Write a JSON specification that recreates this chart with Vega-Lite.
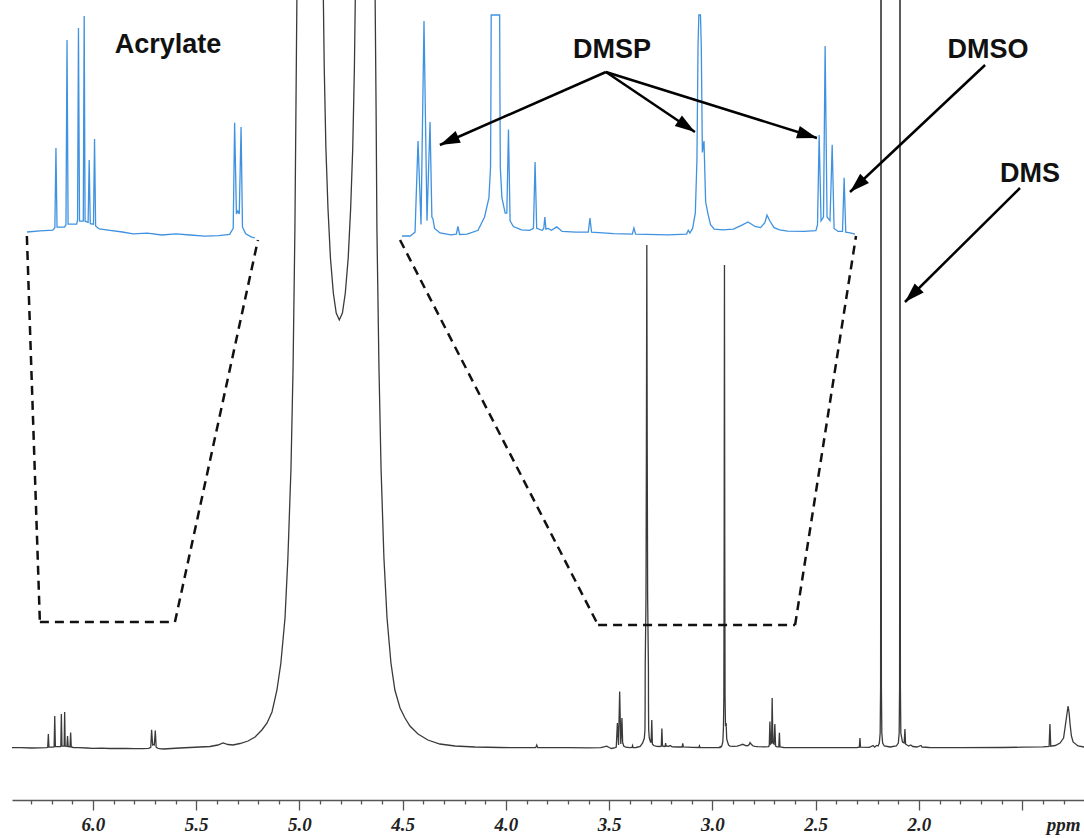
{
  "$schema": "https://vega.github.io/schema/vega-lite/v6.json",
  "width": 1072,
  "height": 800,
  "autosize": {"type": "none"},
  "padding": {"left": 12, "top": 0, "right": 0, "bottom": 38},
  "background": "white",
  "config": {"view": {"stroke": null}},
  "datasets": {
    "spectrum": [
      {"ppm": 6.392, "i": 0.3}, {"ppm": 6.35, "i": 0.4}, {"ppm": 6.297, "i": 0.0}, {"ppm": 6.26, "i": 0.2},
      {"ppm": 6.225, "i": 0.3}, {"ppm": 6.219, "i": 0.7}, {"ppm": 6.216, "i": 14}, {"ppm": 6.213, "i": 0.8},
      {"ppm": 6.192, "i": 0.8}, {"ppm": 6.188, "i": 1.2}, {"ppm": 6.185, "i": 32}, {"ppm": 6.182, "i": 1.3},
      {"ppm": 6.158, "i": 1.3}, {"ppm": 6.1555, "i": 2}, {"ppm": 6.153, "i": 34}, {"ppm": 6.15, "i": 1.8},
      {"ppm": 6.1395, "i": 1.8}, {"ppm": 6.137, "i": 36}, {"ppm": 6.1345, "i": 1.8}, {"ppm": 6.126, "i": 1.6},
      {"ppm": 6.123, "i": 12}, {"ppm": 6.12, "i": 1.4}, {"ppm": 6.111, "i": 1.3}, {"ppm": 6.108, "i": 15.5},
      {"ppm": 6.105, "i": 1.0}, {"ppm": 6.095, "i": 0.5}, {"ppm": 6.07, "i": 0.3}, {"ppm": 6.03, "i": 0.0},
      {"ppm": 6.0, "i": -0.3}, {"ppm": 5.96, "i": -0.2}, {"ppm": 5.92, "i": -0.5}, {"ppm": 5.88, "i": -0.3},
      {"ppm": 5.84, "i": -0.5}, {"ppm": 5.8, "i": -0.7}, {"ppm": 5.76, "i": -0.6}, {"ppm": 5.73, "i": -0.4},
      {"ppm": 5.72, "i": 0.6}, {"ppm": 5.716, "i": 18.2}, {"ppm": 5.711, "i": 3}, {"ppm": 5.707, "i": 3.5},
      {"ppm": 5.703, "i": 3}, {"ppm": 5.698, "i": 17.5}, {"ppm": 5.694, "i": 0.8}, {"ppm": 5.685, "i": -0.3},
      {"ppm": 5.67, "i": -0.8}, {"ppm": 5.659, "i": -1.0}, {"ppm": 5.62, "i": -0.5}, {"ppm": 5.58, "i": 0},
      {"ppm": 5.53, "i": 0.5}, {"ppm": 5.482, "i": 1}, {"ppm": 5.433, "i": 1.5}, {"ppm": 5.395, "i": 3},
      {"ppm": 5.37, "i": 5}, {"ppm": 5.346, "i": 3.5}, {"ppm": 5.322, "i": 3}, {"ppm": 5.288, "i": 4.5},
      {"ppm": 5.249, "i": 7}, {"ppm": 5.215, "i": 11}, {"ppm": 5.182, "i": 18}, {"ppm": 5.157, "i": 25},
      {"ppm": 5.133, "i": 36}, {"ppm": 5.109, "i": 58}, {"ppm": 5.09, "i": 85}, {"ppm": 5.07, "i": 130},
      {"ppm": 5.056, "i": 190}, {"ppm": 5.041, "i": 280}, {"ppm": 5.031, "i": 380}, {"ppm": 5.022, "i": 520},
      {"ppm": 5.017, "i": 640}, {"ppm": 5.012, "i": 760}, {"ppm": 5.002, "i": 1000}, {"ppm": 4.95, "i": 1600},
      {"ppm": 4.9, "i": 1000}, {"ppm": 4.885, "i": 760}, {"ppm": 4.88, "i": 680}, {"ppm": 4.872, "i": 600},
      {"ppm": 4.862, "i": 540}, {"ppm": 4.85, "i": 490}, {"ppm": 4.836, "i": 455}, {"ppm": 4.822, "i": 435},
      {"ppm": 4.807, "i": 428}, {"ppm": 4.792, "i": 435}, {"ppm": 4.778, "i": 455}, {"ppm": 4.764, "i": 490},
      {"ppm": 4.752, "i": 540}, {"ppm": 4.742, "i": 600}, {"ppm": 4.734, "i": 680}, {"ppm": 4.729, "i": 760},
      {"ppm": 4.7, "i": 1200}, {"ppm": 4.66, "i": 1000}, {"ppm": 4.634, "i": 760}, {"ppm": 4.629, "i": 640},
      {"ppm": 4.625, "i": 520}, {"ppm": 4.615, "i": 380}, {"ppm": 4.605, "i": 280}, {"ppm": 4.591, "i": 190},
      {"ppm": 4.576, "i": 130}, {"ppm": 4.557, "i": 85}, {"ppm": 4.538, "i": 58}, {"ppm": 4.513, "i": 40},
      {"ppm": 4.489, "i": 30}, {"ppm": 4.465, "i": 22}, {"ppm": 4.426, "i": 14}, {"ppm": 4.378, "i": 8},
      {"ppm": 4.32, "i": 4}, {"ppm": 4.247, "i": 2}, {"ppm": 4.15, "i": 1}, {"ppm": 4.029, "i": 0.5},
      {"ppm": 3.95, "i": 0.3}, {"ppm": 3.856, "i": 0.3}, {"ppm": 3.851, "i": 3}, {"ppm": 3.846, "i": 0.3},
      {"ppm": 3.7, "i": 0.3}, {"ppm": 3.6, "i": 0.2}, {"ppm": 3.54, "i": 0.4}, {"ppm": 3.512, "i": 1.8},
      {"ppm": 3.5, "i": 0.5}, {"ppm": 3.49, "i": -0.5}, {"ppm": 3.475, "i": 0}, {"ppm": 3.466, "i": 1},
      {"ppm": 3.4605, "i": 25}, {"ppm": 3.455, "i": 3}, {"ppm": 3.4495, "i": 56.6}, {"ppm": 3.444, "i": 4},
      {"ppm": 3.4384, "i": 30}, {"ppm": 3.435, "i": 5}, {"ppm": 3.433, "i": 4.5}, {"ppm": 3.43, "i": 2},
      {"ppm": 3.42, "i": 0.8}, {"ppm": 3.4, "i": 0.3}, {"ppm": 3.39, "i": 0.5}, {"ppm": 3.387, "i": 2.5},
      {"ppm": 3.384, "i": 0.4}, {"ppm": 3.37, "i": 0.5}, {"ppm": 3.35, "i": 1.5}, {"ppm": 3.338, "i": 5},
      {"ppm": 3.33, "i": 10}, {"ppm": 3.327, "i": 18}, {"ppm": 3.3262, "i": 40}, {"ppm": 3.3258, "i": 80},
      {"ppm": 3.322, "i": 150}, {"ppm": 3.32, "i": 300}, {"ppm": 3.318, "i": 503}, {"ppm": 3.316, "i": 300},
      {"ppm": 3.314, "i": 150}, {"ppm": 3.3102, "i": 80}, {"ppm": 3.3098, "i": 40}, {"ppm": 3.309, "i": 18},
      {"ppm": 3.306, "i": 10}, {"ppm": 3.3, "i": 6}, {"ppm": 3.297, "i": 6}, {"ppm": 3.294, "i": 28},
      {"ppm": 3.291, "i": 4}, {"ppm": 3.285, "i": 2.5}, {"ppm": 3.27, "i": 1.6}, {"ppm": 3.255, "i": 1.5},
      {"ppm": 3.248, "i": 2}, {"ppm": 3.245, "i": 19.5}, {"ppm": 3.242, "i": 2}, {"ppm": 3.232, "i": 1.5},
      {"ppm": 3.229, "i": 2}, {"ppm": 3.227, "i": 5}, {"ppm": 3.225, "i": 1.8}, {"ppm": 3.221, "i": 2},
      {"ppm": 3.215, "i": 1.5}, {"ppm": 3.205, "i": 2.4}, {"ppm": 3.195, "i": 1.2}, {"ppm": 3.17, "i": 1.0},
      {"ppm": 3.147, "i": 1.0}, {"ppm": 3.144, "i": 4.7}, {"ppm": 3.141, "i": 1.0}, {"ppm": 3.1, "i": 0.6},
      {"ppm": 3.066, "i": 0.5}, {"ppm": 3.063, "i": 2.1}, {"ppm": 3.06, "i": 0.5}, {"ppm": 3.0, "i": 0.3},
      {"ppm": 2.966, "i": 0.5}, {"ppm": 2.963, "i": 1.5}, {"ppm": 2.96, "i": 0.8}, {"ppm": 2.955, "i": 2},
      {"ppm": 2.95, "i": 6}, {"ppm": 2.947, "i": 20}, {"ppm": 2.945, "i": 50}, {"ppm": 2.9435, "i": 200},
      {"ppm": 2.942, "i": 483}, {"ppm": 2.9405, "i": 200}, {"ppm": 2.939, "i": 50}, {"ppm": 2.937, "i": 22},
      {"ppm": 2.934, "i": 25}, {"ppm": 2.931, "i": 9}, {"ppm": 2.927, "i": 6}, {"ppm": 2.922, "i": 3},
      {"ppm": 2.915, "i": 1.8}, {"ppm": 2.9, "i": 1.6}, {"ppm": 2.88, "i": 1.8}, {"ppm": 2.865, "i": 2.8},
      {"ppm": 2.853, "i": 3.7}, {"ppm": 2.84, "i": 2.5}, {"ppm": 2.83, "i": 2.2}, {"ppm": 2.822, "i": 3.5},
      {"ppm": 2.818, "i": 5.5}, {"ppm": 2.813, "i": 4}, {"ppm": 2.805, "i": 2.2}, {"ppm": 2.795, "i": 1.6},
      {"ppm": 2.78, "i": 1.3}, {"ppm": 2.75, "i": 1.2}, {"ppm": 2.728, "i": 1.4}, {"ppm": 2.725, "i": 3},
      {"ppm": 2.722, "i": 26.6}, {"ppm": 2.7185, "i": 4}, {"ppm": 2.714, "i": 5}, {"ppm": 2.711, "i": 50},
      {"ppm": 2.7075, "i": 5}, {"ppm": 2.702, "i": 4}, {"ppm": 2.698, "i": 24}, {"ppm": 2.6945, "i": 2},
      {"ppm": 2.687, "i": 1.2}, {"ppm": 2.679, "i": 1.2}, {"ppm": 2.676, "i": 15.3}, {"ppm": 2.673, "i": 1},
      {"ppm": 2.665, "i": 0.8}, {"ppm": 2.656, "i": 0.5}, {"ppm": 2.6, "i": 0.3}, {"ppm": 2.4, "i": 0.3},
      {"ppm": 2.3, "i": 0.5}, {"ppm": 2.289, "i": 0.8}, {"ppm": 2.286, "i": 10}, {"ppm": 2.283, "i": 0.8},
      {"ppm": 2.24, "i": 0.6}, {"ppm": 2.222, "i": 2.5}, {"ppm": 2.215, "i": 0.8}, {"ppm": 2.205, "i": 2.5},
      {"ppm": 2.198, "i": 2}, {"ppm": 2.192, "i": 5}, {"ppm": 2.188, "i": 15}, {"ppm": 2.186, "i": 60},
      {"ppm": 2.185, "i": 300}, {"ppm": 2.184, "i": 3000}, {"ppm": 2.183, "i": 300}, {"ppm": 2.182, "i": 60},
      {"ppm": 2.18, "i": 15}, {"ppm": 2.176, "i": 5}, {"ppm": 2.168, "i": 2}, {"ppm": 2.14, "i": 1},
      {"ppm": 2.11, "i": 2}, {"ppm": 2.1, "i": 5}, {"ppm": 2.096, "i": 15}, {"ppm": 2.094, "i": 60},
      {"ppm": 2.093, "i": 300}, {"ppm": 2.092, "i": 3000}, {"ppm": 2.091, "i": 300}, {"ppm": 2.09, "i": 60},
      {"ppm": 2.088, "i": 15}, {"ppm": 2.08, "i": 6}, {"ppm": 2.072, "i": 5}, {"ppm": 2.068, "i": 19},
      {"ppm": 2.065, "i": 4}, {"ppm": 2.058, "i": 3}, {"ppm": 2.05, "i": 2}, {"ppm": 2.04, "i": 3},
      {"ppm": 2.03, "i": 1.5}, {"ppm": 2.01, "i": 1}, {"ppm": 1.99, "i": 2.5}, {"ppm": 1.985, "i": 1},
      {"ppm": 1.95, "i": 0.5}, {"ppm": 1.8, "i": 0.3}, {"ppm": 1.6, "i": 0.5}, {"ppm": 1.5, "i": 0.8},
      {"ppm": 1.4, "i": 1.2}, {"ppm": 1.37, "i": 1.5}, {"ppm": 1.366, "i": 24}, {"ppm": 1.362, "i": 1.8},
      {"ppm": 1.34, "i": 2.5}, {"ppm": 1.317, "i": 5}, {"ppm": 1.3, "i": 10}, {"ppm": 1.293, "i": 20},
      {"ppm": 1.285, "i": 32}, {"ppm": 1.278, "i": 42}, {"ppm": 1.273, "i": 35}, {"ppm": 1.269, "i": 25},
      {"ppm": 1.262, "i": 12}, {"ppm": 1.254, "i": 6}, {"ppm": 1.23, "i": 2}, {"ppm": 1.201, "i": 1}
    ],
    "zoomlines": [
      {"seg": "a1", "p1": 6.32, "i1": 512, "p2": 6.257, "i2": 126},
      {"seg": "a2", "p1": 6.257, "i1": 126, "p2": 5.603, "i2": 126},
      {"seg": "a3", "p1": 5.603, "i1": 126, "p2": 5.201, "i2": 508},
      {"seg": "d1", "p1": 4.513, "i1": 508, "p2": 3.554, "i2": 123},
      {"seg": "d2", "p1": 3.554, "i1": 123, "p2": 2.6, "i2": 123},
      {"seg": "d3", "p1": 2.6, "i1": 123, "p2": 2.305, "i2": 512}
    ],
    "arrows": [
      {"name": "dmsp1", "p1": 3.516, "i1": 676, "p2": 4.32, "i2": 603},
      {"name": "dmsp2", "p1": 3.516, "i1": 676, "p2": 3.085, "i2": 616},
      {"name": "dmsp3", "p1": 3.516, "i1": 676, "p2": 2.494, "i2": 610},
      {"name": "dmso", "p1": 1.68, "i1": 683, "p2": 2.334, "i2": 556},
      {"name": "dms", "p1": 1.511, "i1": 560, "p2": 2.068, "i2": 446}
    ],
    "labels": [
      {"label": "Acrylate", "p": 5.637, "i": 695.5},
      {"label": "DMSP", "p": 3.487, "i": 690},
      {"label": "DMSO", "p": 1.666, "i": 690},
      {"label": "DMS", "p": 1.462, "i": 566}
    ]
  },
  "resolve": {"scale": {"x": "independent", "y": "independent"}, "axis": {"x": "independent", "y": "independent"}},
  "layer": [
    {
      "data": {"name": "spectrum"},
      "transform": [{"filter": "datum.ppm <= 6.297 && datum.ppm >= 5.659"}],
      "mark": {"type": "line", "color": "#3f92e0", "strokeWidth": 1.3},
      "encoding": {
        "x": {"field": "ppm", "type": "quantitative", "axis": null,
              "scale": {"domain": [5.659, 6.297], "range": [15, 243], "reverse": true, "nice": false, "zero": false}},
        "y": {"field": "i", "type": "quantitative", "axis": null,
              "scale": {"domain": [0, 38.667], "range": [232, 0], "nice": false, "zero": false}}
      }
    },
    {
      "data": {"name": "spectrum"},
      "transform": [{"filter": "datum.ppm <= 3.49 && datum.ppm >= 2.656"}],
      "mark": {"type": "line", "color": "#3f92e0", "strokeWidth": 1.3},
      "encoding": {
        "x": {"field": "ppm", "type": "quantitative", "axis": null,
              "scale": {"domain": [2.656, 3.49], "range": [390, 843], "reverse": true, "nice": false, "zero": false}},
        "y": {"field": "i", "type": "quantitative", "axis": null,
              "scale": {"domain": [0, 58.16], "range": [236, 15], "clamp": true, "nice": false, "zero": false}}
      }
    },
    {
      "data": {"name": "spectrum"},
      "mark": {"type": "line", "color": "#3a3a3a", "strokeWidth": 1.3, "clip": true},
      "encoding": {
        "x": {"field": "ppm", "type": "quantitative",
              "scale": {"domain": [1.201, 6.392], "reverse": true, "nice": false, "zero": false},
              "axis": {
                "orient": "bottom", "title": null, "grid": false,
                "values": [6.3, 6.2, 6.1, 6.0, 5.9, 5.8, 5.7, 5.6, 5.5, 5.4, 5.3, 5.2, 5.1, 5.0, 4.9, 4.8, 4.7, 4.6, 4.5, 4.4, 4.3, 4.2, 4.1, 4.0, 3.9, 3.8, 3.7, 3.6, 3.5, 3.4, 3.3, 3.2, 3.1, 3.0, 2.9, 2.8, 2.7, 2.6, 2.5, 2.4, 2.3, 2.2, 2.1, 2.0, 1.9, 1.8, 1.7, 1.6, 1.5, 1.4, 1.3],
                "domainColor": "#555555", "domainWidth": 1.5,
                "tickColor": "#555555", "tickWidth": 1.3,
                "tickSize": {"condition": {"test": "abs(datum.value * 2 - round(datum.value * 2)) < 0.01", "value": 10}, "value": 4},
                "labelExpr": "abs(datum.value * 2 - round(datum.value * 2)) < 0.01 ? (datum.value == 1.5 ? 'ppm' : format(datum.value, '.1f')) : ''",
                "labelOffset": {"condition": {"test": "datum.value == 1.5", "value": 41}, "value": 0},
                "labelPadding": 5,
                "labelFont": "Liberation Serif", "labelFontSize": 19, "labelFontWeight": "bold", "labelFontStyle": "italic",
                "labelColor": "#222222", "labelOverlap": false, "labelFlush": false, "labelBound": false
              }},
        "y": {"field": "i", "type": "quantitative", "axis": null,
              "scale": {"domain": [-52, 748], "nice": false, "zero": false}}
      }
    },
    {
      "data": {"name": "zoomlines"},
      "mark": {"type": "rule", "color": "#111111", "strokeWidth": 2.5, "strokeDash": [9, 6]},
      "encoding": {
        "x": {"field": "p1", "type": "quantitative", "axis": null,
              "scale": {"domain": [1.201, 6.392], "reverse": true, "nice": false, "zero": false}},
        "x2": {"field": "p2"},
        "y": {"field": "i1", "type": "quantitative", "axis": null,
              "scale": {"domain": [-52, 748], "nice": false, "zero": false}},
        "y2": {"field": "i2"}
      }
    },
    {
      "data": {"name": "arrows"},
      "mark": {"type": "rule", "color": "#000000", "strokeWidth": 2.5},
      "encoding": {
        "x": {"field": "p1", "type": "quantitative", "axis": null,
              "scale": {"domain": [1.201, 6.392], "reverse": true, "nice": false, "zero": false}},
        "x2": {"field": "p2"},
        "y": {"field": "i1", "type": "quantitative", "axis": null,
              "scale": {"domain": [-52, 748], "nice": false, "zero": false}},
        "y2": {"field": "i2"}
      }
    },
    {
      "data": {"name": "arrows"},
      "mark": {"type": "point", "shape": "M0,0L-0.32,1L0.32,1Z", "filled": true, "color": "#000000", "opacity": 1, "size": 1600, "strokeWidth": 0},
      "encoding": {
        "x": {"field": "p2", "type": "quantitative", "axis": null,
              "scale": {"domain": [1.201, 6.392], "reverse": true, "nice": false, "zero": false}},
        "y": {"field": "i2", "type": "quantitative", "axis": null,
              "scale": {"domain": [-52, 748], "nice": false, "zero": false}},
        "angle": {"condition": [
          {"test": "datum.name === 'dmsp1'", "value": 246.3},
          {"test": "datum.name === 'dmsp2'", "value": 124.0},
          {"test": "datum.name === 'dmsp3'", "value": 107.4},
          {"test": "datum.name === 'dmso'", "value": 226.8}
        ], "value": 225.3}
      }
    },
    {
      "data": {"name": "labels"},
      "mark": {"type": "text", "font": "Liberation Sans", "fontWeight": "bold", "fontSize": 27, "color": "#111111", "align": "center", "baseline": "alphabetic"},
      "encoding": {
        "x": {"field": "p", "type": "quantitative", "axis": null,
              "scale": {"domain": [1.201, 6.392], "reverse": true, "nice": false, "zero": false}},
        "y": {"field": "i", "type": "quantitative", "axis": null,
              "scale": {"domain": [-52, 748], "nice": false, "zero": false}},
        "text": {"field": "label"}
      }
    }
  ]
}
